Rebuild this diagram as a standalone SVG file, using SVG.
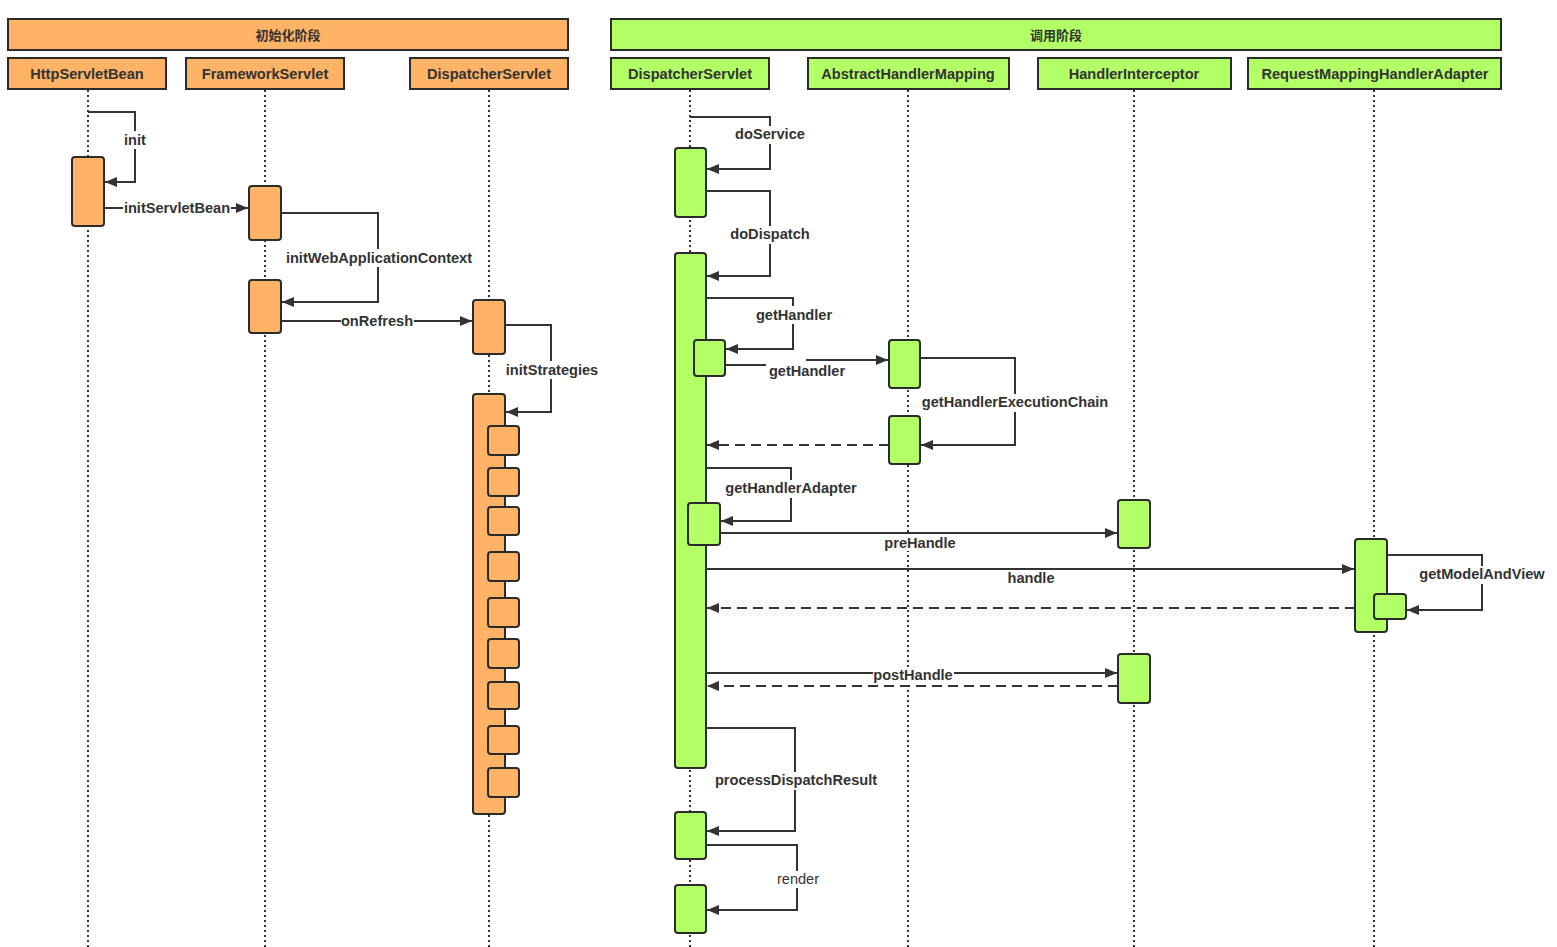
<svg xmlns="http://www.w3.org/2000/svg" width="1557" height="947" viewBox="0 0 1557 947">
<defs>
<marker id="ah" viewBox="0 0 12 10" refX="12" refY="5" markerWidth="12" markerHeight="10" markerUnits="userSpaceOnUse" orient="auto">
<path d="M0,0 L12,5 L0,10 Z" fill="#333"/>
</marker>
</defs>
<style>
.bar{stroke:#2b2b2b;stroke-width:2}
.or{fill:#FFB366}
.gr{fill:#B3FF66}
.hd{font-family:"Liberation Sans","Noto Sans CJK SC",sans-serif;font-size:14.6px;font-weight:bold;fill:#333;text-anchor:middle}
.ph{font-family:"Noto Sans CJK SC","Liberation Sans",sans-serif;font-size:13px;font-weight:bold;fill:#333;text-anchor:middle}
.life{stroke:#333;stroke-width:2;stroke-dasharray:2,3;fill:none}
.act{stroke:#2b2b2b;stroke-width:2}
.msg{stroke:#333;stroke-width:2;fill:none;marker-end:url(#ah)}
.ret{stroke:#333;stroke-width:2;fill:none;stroke-dasharray:10,6;marker-end:url(#ah)}
.lb{font-family:"Liberation Sans",sans-serif;font-size:14.6px;font-weight:bold;fill:#333;text-anchor:middle}
.lbn{font-family:"Liberation Sans",sans-serif;font-size:14.6px;fill:#333;text-anchor:middle}
.bg{fill:#fff}
</style>
<rect width="1557" height="947" fill="#fff"/>

<g id="phase-init"><rect class="bar or" x="8" y="19" width="560" height="31"/><text class="ph" x="288" y="39.5">初始化阶段</text></g>
<g id="phase-call"><rect class="bar gr" x="611" y="19" width="890" height="31"/><text class="ph" x="1056" y="39.5">调用阶段</text></g>

<g id="lifelines">
<line class="life" x1="88" y1="90" x2="88" y2="947"/>
<line class="life" x1="265" y1="90" x2="265" y2="947"/>
<line class="life" x1="489" y1="90" x2="489" y2="947"/>
<line class="life" x1="690" y1="90" x2="690" y2="947"/>
<line class="life" x1="908" y1="90" x2="908" y2="947"/>
<line class="life" x1="1134" y1="90" x2="1134" y2="947"/>
<line class="life" x1="1374" y1="90" x2="1374" y2="947"/>
</g>

<g id="node-HttpServletBean"><rect class="bar or" x="8" y="58" width="158" height="31"/><text class="hd" x="87" y="79">HttpServletBean</text></g>
<g id="node-FrameworkServlet"><rect class="bar or" x="186" y="58" width="158" height="31"/><text class="hd" x="265" y="79">FrameworkServlet</text></g>
<g id="node-DispatcherServlet-init"><rect class="bar or" x="410" y="58" width="158" height="31"/><text class="hd" x="489" y="79">DispatcherServlet</text></g>
<g id="node-DispatcherServlet"><rect class="bar gr" x="611" y="58" width="158" height="31"/><text class="hd" x="690" y="79">DispatcherServlet</text></g>
<g id="node-AbstractHandlerMapping"><rect class="bar gr" x="808" y="58" width="201" height="31"/><text class="hd" x="908" y="79">AbstractHandlerMapping</text></g>
<g id="node-HandlerInterceptor"><rect class="bar gr" x="1038" y="58" width="193" height="31"/><text class="hd" x="1134" y="79">HandlerInterceptor</text></g>
<g id="node-RequestMappingHandlerAdapter"><rect class="bar gr" x="1248" y="58" width="253" height="31"/><text class="hd" x="1375" y="79">RequestMappingHandlerAdapter</text></g>

<g id="activations">
<rect class="act or" x="72" y="157" width="32" height="69" rx="3"/>
<rect class="act or" x="249" y="186" width="32" height="54" rx="3"/>
<rect class="act or" x="249" y="280" width="32" height="53" rx="3"/>
<rect class="act or" x="473" y="300" width="32" height="54" rx="3"/>
<rect class="act or" x="473" y="394" width="32" height="420" rx="3"/>
<rect class="act or" x="488" y="426" width="31" height="29" rx="3"/>
<rect class="act or" x="488" y="468" width="31" height="28" rx="3"/>
<rect class="act or" x="488" y="507" width="31" height="28" rx="3"/>
<rect class="act or" x="488" y="552" width="31" height="29" rx="3"/>
<rect class="act or" x="488" y="598" width="31" height="29" rx="3"/>
<rect class="act or" x="488" y="639" width="31" height="29" rx="3"/>
<rect class="act or" x="488" y="682" width="31" height="27" rx="3"/>
<rect class="act or" x="488" y="726" width="31" height="28" rx="3"/>
<rect class="act or" x="488" y="768" width="31" height="29" rx="3"/>

<rect class="act gr" x="675" y="148" width="31" height="69" rx="3"/>
<rect class="act gr" x="675" y="253" width="31" height="515" rx="3"/>
<rect class="act gr" x="694" y="340" width="31" height="36" rx="3"/>
<rect class="act gr" x="688" y="503" width="32" height="42" rx="3"/>
<rect class="act gr" x="889" y="340" width="31" height="48" rx="3"/>
<rect class="act gr" x="889" y="416" width="31" height="48" rx="3"/>
<rect class="act gr" x="1118" y="500" width="32" height="48" rx="3"/>
<rect class="act gr" x="1118" y="654" width="32" height="49" rx="3"/>
<rect class="act gr" x="1355" y="539" width="32" height="93" rx="3"/>
<rect class="act gr" x="1374" y="594" width="32" height="25" rx="3"/>
<rect class="act gr" x="675" y="812" width="31" height="47" rx="3"/>
<rect class="act gr" x="675" y="885" width="31" height="48" rx="3"/>
</g>

<g id="connectors">
<path class="msg" d="M88,112 H135 V182 H105"/>
<path class="msg" d="M104,208 H248"/>
<path class="msg" d="M281,213 H378 V302 H282"/>
<path class="msg" d="M281,321 H472"/>
<path class="msg" d="M505,325 H551 V412 H506"/>

<path class="msg" d="M690,117 H770 V169 H707"/>
<path class="msg" d="M706,191 H770 V276 H707"/>
<path class="msg" d="M706,298 H793 V349 H726"/>
<path class="msg" d="M725,365 H766 M806,360 H888"/>
<path class="msg" d="M920,358 H1015 V445 H921"/>
<path class="ret" d="M889,445 H707"/>
<path class="msg" d="M706,468 H791 V521 H721"/>
<path class="msg" d="M720,533 H1117"/>
<path class="msg" d="M706,569 H1354"/>
<path class="msg" d="M1387,555 H1482 V610 H1407"/>
<path class="ret" d="M1355,608 H707"/>
<path class="msg" d="M706,673 H1117"/>
<path class="ret" d="M1118,686 H707"/>
<path class="msg" d="M706,728 H795 V831 H707"/>
<path class="msg" d="M706,845 H797 V910 H707"/>
</g>

<g id="labels">
<rect class="bg" x="121" y="131" width="28" height="18"/><text class="lb" x="135" y="145">init</text>
<rect class="bg" x="123" y="200" width="108" height="17"/><text class="lb" x="177" y="213">initServletBean</text>
<rect class="bg" x="284" y="249" width="190" height="18"/><text class="lb" x="379" y="263">initWebApplicationContext</text>
<rect class="bg" x="341" y="313" width="73" height="17"/><text class="lb" x="377" y="326">onRefresh</text>
<rect class="bg" x="505" y="361" width="94" height="18"/><text class="lb" x="552" y="375">initStrategies</text>
<rect class="bg" x="735" y="126" width="70" height="18"/><text class="lb" x="770" y="139">doService</text>
<rect class="bg" x="730" y="226" width="80" height="18"/><text class="lb" x="770" y="239">doDispatch</text>
<rect class="bg" x="753" y="306" width="81" height="18"/><text class="lb" x="794" y="320">getHandler</text>
<text class="lb" x="807" y="376">getHandler</text>
<rect class="bg" x="922" y="394" width="186" height="18"/><text class="lb" x="1015" y="407">getHandlerExecutionChain</text>
<rect class="bg" x="723" y="480" width="136" height="18"/><text class="lb" x="791" y="493">getHandlerAdapter</text>
<rect class="bg" x="883" y="534" width="74" height="17"/><text class="lb" x="920" y="548">preHandle</text>
<rect class="bg" x="1006" y="570" width="50" height="17"/><text class="lb" x="1031" y="583">handle</text>
<rect class="bg" x="1417" y="566" width="130" height="18"/><text class="lb" x="1482" y="579">getModelAndView</text>
<rect class="bg" x="873" y="667" width="81" height="17"/><text class="lb" x="913" y="680">postHandle</text>
<rect class="bg" x="718" y="772" width="156" height="18"/><text class="lb" x="796" y="785">processDispatchResult</text>
<rect class="bg" x="775" y="871" width="46" height="17"/><text class="lbn" x="798" y="884">render</text>
</g>
</svg>
